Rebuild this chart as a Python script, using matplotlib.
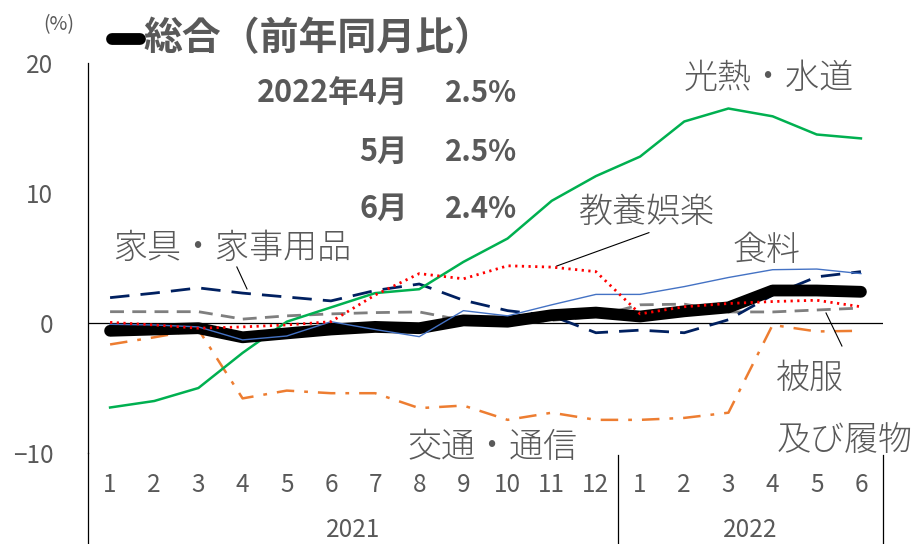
import matplotlib
matplotlib.use("Agg")
import matplotlib.pyplot as plt
from matplotlib.lines import Line2D
from matplotlib.transforms import blended_transform_factory

plt.rcParams['font.family'] = ['Noto Sans CJK JP', 'DejaVu Sans']

months = ['1', '2', '3', '4', '5', '6', '7', '8', '9', '10', '11', '12',
          '1', '2', '3', '4', '5', '6']
years = ['2021', '2022']

total = [-0.6, -0.5, -0.4, -1.1, -0.8, -0.5, -0.3, -0.4, 0.2, 0.1, 0.6, 0.8,
         0.5, 0.9, 1.2, 2.5, 2.5, 2.4]
utilities = [-6.5, -6.0, -5.0, -2.3, 0.1, 1.2, 2.3, 2.6, 4.7, 6.5, 9.4, 11.3,
             12.8, 15.5, 16.5, 15.9, 14.5, 14.2]
food = [-0.1, -0.15, -0.3, -1.3, -1.0, 0.1, -0.5, -1.05, 0.95, 0.55, 1.4, 2.2,
        2.2, 2.8, 3.5, 4.1, 4.15, 3.8]
culture = [0.05, -0.15, -0.4, -0.3, -0.15, 0.1, 2.15, 3.8, 3.4, 4.4, 4.3, 3.95,
           0.7, 1.25, 1.5, 1.65, 1.75, 1.25]
furniture = [1.95, 2.3, 2.7, 2.3, 2.0, 1.7, 2.5, 3.0, 1.75, 0.95, 0.55, -0.75,
             -0.55, -0.75, 0.25, 2.15, 3.55, 3.95]
clothing = [0.87, 0.87, 0.87, 0.3, 0.55, 0.7, 0.8, 0.85, 0.2, -0.1, 0.2, 0.5,
            1.4, 1.45, 0.85, 0.85, 1.0, 1.15]
transport = [-1.65, -1.1, -0.5, -5.8, -5.2, -5.4, -5.4, -6.55, -6.35, -7.45, -6.9, -7.45,
             -7.45, -7.3, -6.9, -0.15, -0.65, -0.6]

stat_months = ['2022年4月', '5月', '6月']
stat_values = ['2.5%', '2.5%', '2.4%']

TXT = '#595959'

fig = plt.figure(figsize=(9.14, 5.44), dpi=100)
ax = fig.add_axes([88/914, 1-453/544, (883-88)/914, 390/544])
x = list(range(len(months)))

ax.axhline(0, color='black', lw=0.9, zorder=1)
ax.plot(x, transport, color='#ED7D31', lw=1.8, dashes=(7, 4, 1.5, 4), zorder=2)
ax.plot(x, clothing, color='#7F7F7F', lw=2.0, dashes=(5, 3), zorder=2)
ax.plot(x, furniture, color='#002060', lw=2.0, dashes=(7, 4), zorder=2)
ax.plot(x, utilities, color='#00B050', lw=1.8, zorder=3)
ax.plot(x, total, color='black', lw=8.5, solid_capstyle='round', solid_joinstyle='round', zorder=4)
ax.plot(x, food, color='#4472C4', lw=1.0, zorder=5)
ax.plot(x, culture, color='#FF0000', lw=2.0, dashes=(0.8, 1.6), zorder=6)

ax.set_xlim(-0.5, 17.5)
ax.set_ylim(-10, 20)
ax.set_yticks([-10, 0, 10, 20])
ax.set_yticklabels(['−10', '0', '10', '20'])
ax.set_xticks(x)
ax.set_xticklabels(months)
ax.tick_params(axis='y', length=0, pad=25, labelsize=17.5, labelcolor=TXT)
ax.tick_params(axis='x', length=0, pad=14, labelsize=17.5, labelcolor=TXT)
for s in ['top', 'right', 'bottom']:
    ax.spines[s].set_visible(False)
ax.spines['left'].set_color('black')
ax.spines['left'].set_linewidth(0.9)
ax.patch.set_alpha(0)

# extend left spine and category separators below the plot
bt = blended_transform_factory(ax.transData, fig.transFigure)
fig.add_artist(Line2D([88/914, 88/914], [0, 1-453/544], color='black', lw=0.9))
for xv, y0 in [(11.5, 1-455/544), (17.5, 1-455/544)]:
    ax.plot([xv, xv], [0, y0], color='black', lw=0.9, transform=bt, clip_on=False)
ax.text(5.5, 1-530/544, years[0], transform=bt, ha='center', va='center', fontsize=17.5, color=TXT)
ax.text(14.5, 1-530/544, years[1], transform=bt, ha='center', va='center', fontsize=17.5, color=TXT)

# series labels
lab = dict(fontsize=24.5, color=TXT, ha='center', va='center', fontweight='light')
ax.text(14.92, 18.85, '光熱・水道', **lab)
ax.text(12.13, 8.54, '教養娯楽', **lab)
ax.text(14.87, 5.6, '食料', **lab)
ax.text(2.76, 5.77, '家具・家事用品', **lab)
ax.text(15.85, -4.2, '被服', **lab)
ax.text(16.64, -9.0, '及び履物', **lab)
ax.text(8.67, -9.5, '交通・通信', **lab)

# leader lines
ax.plot([10.11, 12.2], [4.38, 6.95], color='black', lw=0.8)
ax.plot([2.87, 3.10], [4.31, 2.62], color='black', lw=0.8)
ax.plot([16.21, 16.57], [0.77, -1.77], color='black', lw=0.8)

# title / legend
fig.add_artist(Line2D([112/914, 140/914], [1-39/544, 1-39/544], color='black', lw=8.5,
                      solid_capstyle='round'))
fig.text(143/914, 1-39/544, '総合（前年同月比）', fontsize=28, fontweight='bold',
         color=TXT, ha='left', va='center')
fig.text(59/914, 1-25/544, '(%)', fontsize=14, color=TXT, ha='center', va='center')

for i, (m, v) in enumerate(zip(stat_months, stat_values)):
    yy = 1 - [93, 152, 209][i]/544
    fig.text(408/914, yy, m, fontsize=22, fontweight='bold', color=TXT, ha='right', va='center')
    fig.text(445/914, yy, v, fontsize=21, fontweight='bold', color=TXT, ha='left', va='center')

fig.savefig('out.png', dpi=100)
